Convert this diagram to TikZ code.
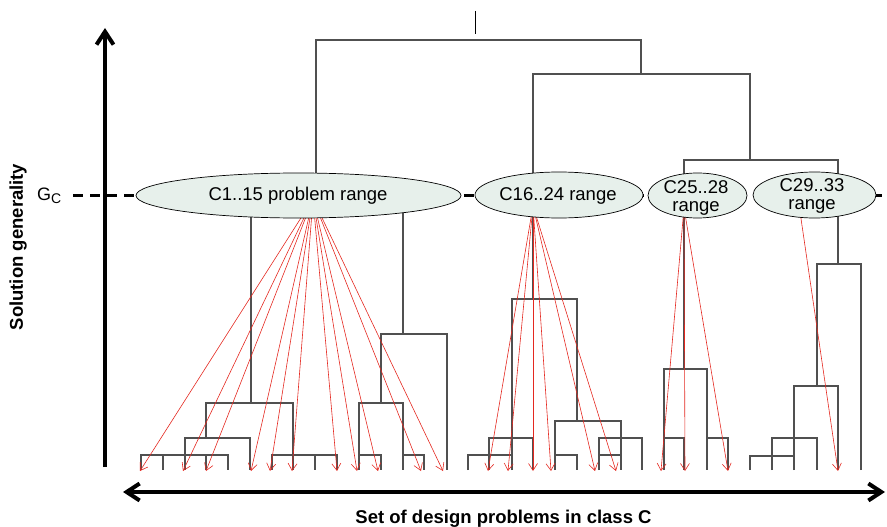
\documentclass[tikz,border=0pt]{standalone}
\usepackage{fontspec}
\setmainfont{Liberation Sans}
\usetikzlibrary{arrows.meta,shapes.geometric}
\definecolor{rangefill}{RGB}{231,240,235}
\definecolor{linkred}{RGB}{228,40,32}
\definecolor{treegray}{RGB}{80,80,80}
\begin{document}
\begin{tikzpicture}[x=1pt,y=-1pt,
  tree/.style={draw=treegray,line width=1.1pt},
  link/.style={draw=linkred,line width=0.6pt,-{Straight Barb[length=7pt,width=9pt]}},
  rangebox/.style={ellipse,draw=black,line width=0.7pt,fill=rangefill,inner sep=0pt,minimum height=45pt},
  rlabel/.style={font=\fontsize{18.5}{18}\selectfont,align=center,inner sep=0pt},
  axisline/.style={line width=4pt},
  axishead/.tip={Straight Barb[length=13pt,width=17pt]},
  axislabel/.style={font=\fontsize{18.5}{20}\selectfont\bfseries,inner sep=0pt}]

\useasboundingbox (0,0) rectangle (887,527);

% ---- dendrogram: upper merges ----
\draw[black,line width=0.7pt] (475,11) -- (475,34);
\draw[tree] (316,200) -- (316,40) -- (641,40) -- (641,74);
\draw[tree] (533,299) -- (533,74) -- (750,74) -- (750,160);
\draw[tree] (684,369) -- (684,160) -- (838,160) -- (838,264);

% ---- cluster C1..15 ----
\draw[tree] (251,403) -- (251,200) -- (403,200) -- (403,334);
\draw[tree] (381,403) -- (381,334) -- (447,334) -- (447,470);
\draw[tree] (206,438) -- (206,403) -- (293,403) -- (293,455);
\draw[tree] (185,455) -- (185,438) -- (250,438) -- (250,470);
\draw[tree] (141,470) -- (141,455) -- (228,455) -- (228,470);
\foreach \x in {163,185,206} \draw[tree] (\x,455) -- (\x,470);
\draw[tree] (272,470) -- (272,455) -- (337,455) -- (337,470);
\foreach \x in {293,315} \draw[tree] (\x,455) -- (\x,470);
\draw[tree] (359,470) -- (359,403) -- (403,403) -- (403,470);
\draw[tree] (359,455) -- (381,455) -- (381,470);
\draw[tree] (403,455) -- (424,455) -- (424,470);

% ---- cluster C16..24 ----
\draw[tree] (512,470) -- (512,299) -- (577,299) -- (577,421);
\draw[tree] (489,470) -- (489,438) -- (533,438) -- (533,470);
\draw[tree] (468,470) -- (468,455) -- (512,455);
\draw[tree] (555,470) -- (555,421) -- (621,421) -- (621,470);
\draw[tree] (555,455) -- (577,455) -- (577,470);
\draw[tree] (599,470) -- (599,438) -- (642,438) -- (642,470);
\draw[tree] (599,455) -- (621,455);

% ---- cluster C25..28 ----
\draw[tree] (664,470) -- (664,369) -- (707,369) -- (707,470);
\draw[tree] (664,438) -- (684,438) -- (684,470);
\draw[tree] (707,438) -- (728,438) -- (728,470);

% ---- cluster C29..33 ----
\draw[tree] (861,470) -- (861,264) -- (817,264) -- (817,386);
\draw[tree] (794,470) -- (794,386) -- (838,386) -- (838,470);
\draw[tree] (772,470) -- (772,438) -- (817,438) -- (817,470);
\draw[tree] (750,470) -- (750,456) -- (794,456);

% ---- links from each range to its problems ----
\coordinate (o1) at (313,199);
\coordinate (o2) at (533,206);
\coordinate (o3) at (684,208);
\coordinate (o4) at (799,205);
\foreach \x [count=\i] in {140,183,206,251,270,292,337,357,378,421,443}
  \coordinate (a\i) at (\x,471);
\foreach \x [count=\i] in {488,508,533,551,595,616}
  \coordinate (b\i) at (\x,471);
\foreach \x [count=\i] in {661,685,728}
  \coordinate (c\i) at (\x,471);
\coordinate (d1) at (838,471);
\foreach \i in {1,...,11} \draw[link] (o1) -- (a\i);
\foreach \i in {1,...,6} \draw[link] (o2) -- (b\i);
\foreach \i in {1,...,3} \draw[link] (o3) -- (c\i);
\draw[link] (o4) -- (d1);

% ---- generality level G_C ----
\coordinate (gl) at (73,195);
\coordinate (gr) at (887,195);
\draw[line width=3pt,dash pattern=on 10pt off 7pt] (gl) -- (gr);

\node[rangebox,minimum width=325pt] (e1) at (298.5,195.5) {};
\node[rangebox,minimum width=168pt,minimum height=46pt] (e2) at (559,195) {};
\node[rangebox,minimum width=99pt] (e3) at (697.5,195.5) {};
\node[rangebox,minimum width=123pt,minimum height=46pt] (e4) at (814.5,195) {};

\node[rlabel] (t1) at (298,196) {C1..15 problem range};
\node[rlabel] (t2) at (558,196) {C16..24 range};
\node[rlabel] (t3) at (696,198) {C25..28\\range};
\node[rlabel] (t4) at (812,196) {C29..33\\range};

\node[font=\fontsize{18}{18}\selectfont,anchor=base west,inner sep=0pt] (gc)
  at (37,200) {G\raisebox{-3pt}{\fontsize{14}{14}\selectfont C}};

% ---- axes ----
\coordinate (ybot) at (105,467);
\coordinate (ytop) at (105,28);
\draw[axisline,-{axishead}] (ybot) -- (ytop);
\coordinate (xl) at (123,492);
\coordinate (xr) at (885,492);
\draw[axisline,{axishead}-{axishead}] (xl) -- (xr);

\node[axislabel,rotate=90,anchor=base] (ylab) at (23,247) {Solution generality};
\node[axislabel,anchor=base] (xlab) at (503.5,523) {Set of design problems in class C};
\end{tikzpicture}
\end{document}
